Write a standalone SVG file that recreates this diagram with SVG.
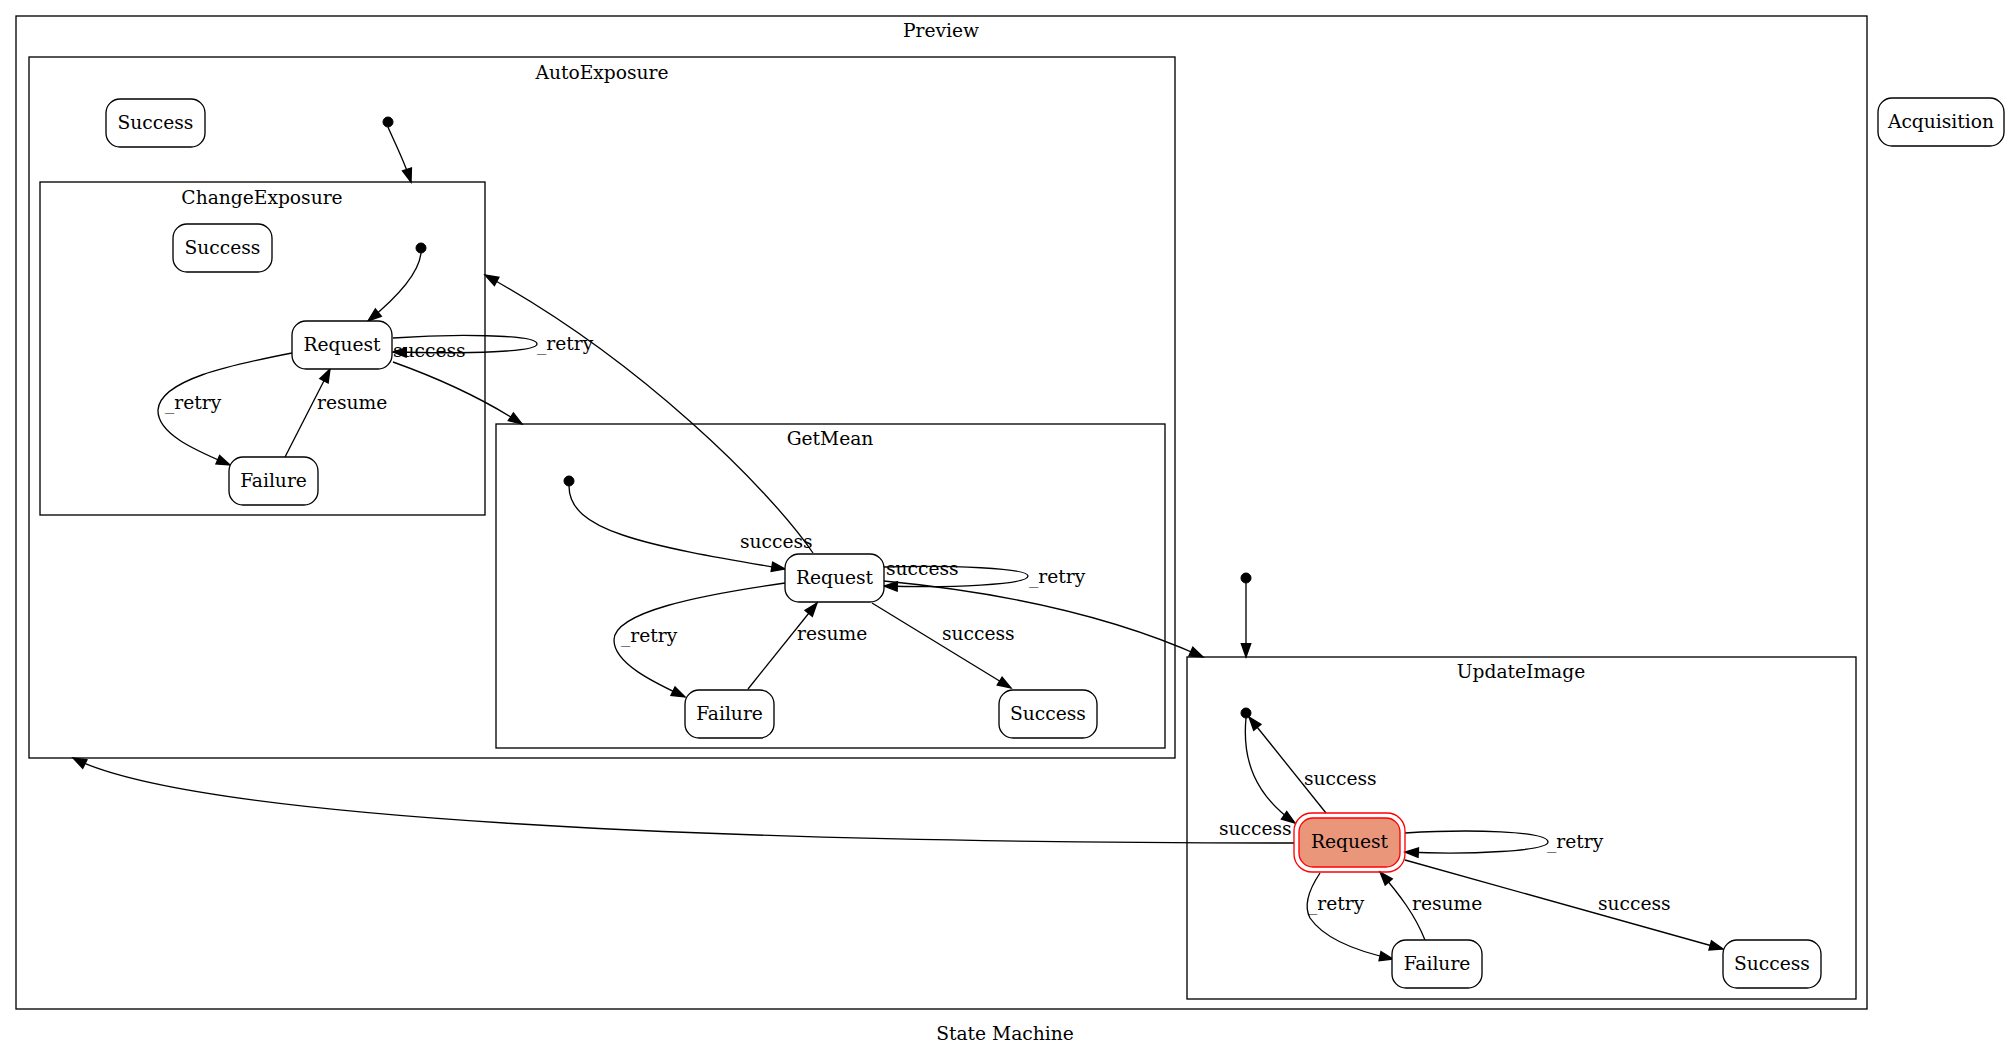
<svg xmlns="http://www.w3.org/2000/svg" width="2011" height="1056" viewBox="0 0 2011 1056">
  <style>
    text { font-family: "DejaVu Serif", "Liberation Serif", serif; font-size: 18.67px; fill: #000; }
    .mid { text-anchor: middle; }
    .cluster { fill: none; stroke: #000; stroke-width: 1.33; }
    .state { fill: #fff; stroke: #000; stroke-width: 1.33; }
    .init { fill: #000; stroke: #000; stroke-width: 1; }
    .edge { fill: none; stroke: #000; stroke-width: 1.33; marker-end: url(#arrow); }
  </style>
  <defs>
    <marker id="arrow" markerUnits="userSpaceOnUse" markerWidth="16" markerHeight="12" refX="13.3" refY="4.7" orient="auto" overflow="visible">
      <path d="M0,0 L13.3,4.7 L0,9.4 Z" fill="#000" stroke="#000" stroke-width="1.33"/>
    </marker>
  </defs>

  <rect width="2011" height="1056" fill="#fff"/>

  <!-- clusters -->
  <g id="cluster_Preview">
    <rect class="cluster" x="16" y="16" width="1851" height="993"/>
    <text class="mid" x="941" y="37">Preview</text>
  </g>
  <g id="cluster_AutoExposure">
    <rect class="cluster" x="29" y="57" width="1146" height="701"/>
    <text class="mid" x="602" y="79">AutoExposure</text>
  </g>
  <g id="cluster_ChangeExposure">
    <rect class="cluster" x="40" y="182" width="445" height="333"/>
    <text class="mid" x="262" y="204">ChangeExposure</text>
  </g>
  <g id="cluster_GetMean">
    <rect class="cluster" x="496" y="424" width="669" height="324"/>
    <text class="mid" x="830" y="445">GetMean</text>
  </g>
  <g id="cluster_UpdateImage">
    <rect class="cluster" x="1187" y="657" width="669" height="342"/>
    <text class="mid" x="1521" y="678">UpdateImage</text>
  </g>

  <!-- connectors -->
  <g id="edges">
    <path class="edge" d="M388,127 C392,137 404,160 411,182"/>
    <path class="edge" d="M421,253 C419,272 400,295 368,321"/>
    <path class="edge" d="M393,338 C450,334 537,334 537,344 C537,352 470,354 393,352"/>
    <path class="edge" d="M292,353 C230,365 160,380 158,410 C157,435 200,452 230,465"/>
    <path class="edge" d="M285,457 L330,369"/>
    <path class="edge" d="M393,362 C435,377 482,398 522,424"/>
    <path class="edge" d="M813,553 C770,490 640,360 485,275"/>
    <path class="edge" d="M569,486 C569,530 640,545 785,569"/>
    <path class="edge" d="M884,567 C950,565 1028,568 1028,576 C1028,585 950,588 884,586"/>
    <path class="edge" d="M785,583 C700,595 614,612 614,640 C614,665 660,685 685,697"/>
    <path class="edge" d="M748,689 L817,603"/>
    <path class="edge" d="M872,603 L1011,688"/>
    <path class="edge" d="M884,581 C1000,592 1110,615 1203,657"/>
    <path class="edge" d="M1246,583 L1246,657"/>
    <path class="edge" d="M1246,718 C1242,760 1255,795 1295,823"/>
    <path class="edge" d="M1326,813 L1249,717"/>
    <path class="edge" d="M1405,833 C1470,829 1548,831 1548,842 C1548,851 1470,855 1405,852"/>
    <path class="edge" d="M1320,873 C1310,888 1303,905 1310,918 C1325,940 1360,952 1393,959"/>
    <path class="edge" d="M1425,940 C1415,915 1400,895 1380,872"/>
    <path class="edge" d="M1405,860 L1723,949"/>
    <path class="edge" d="M1294,843 C700,843 190,818 73,758"/>

    <!-- edge labels -->
    <text x="393" y="357">success</text>
    <text x="537" y="350">_retry</text>
    <text x="165" y="409">_retry</text>
    <text x="317" y="409">resume</text>
    <text x="740" y="548">success</text>
    <text x="886" y="575">success</text>
    <text x="1029" y="583">_retry</text>
    <text x="621" y="642">_retry</text>
    <text x="797" y="640">resume</text>
    <text x="942" y="640">success</text>
    <text x="1304" y="785">success</text>
    <text x="1547" y="848">_retry</text>
    <text x="1308" y="910">_retry</text>
    <text x="1412" y="910">resume</text>
    <text x="1598" y="910">success</text>
    <text x="1219" y="835">success</text>
  </g>

  <!-- AutoExposure states -->
  <g id="AE_Success">
    <rect class="state" x="106" y="99" width="99" height="48" rx="14"/>
    <text class="mid" x="155.5" y="129">Success</text>
  </g>
  <g id="AE_initial">
    <circle class="init" cx="388" cy="122" r="5"/>
  </g>

  <!-- ChangeExposure states -->
  <g id="CE_Success">
    <rect class="state" x="173" y="224" width="99" height="48" rx="14"/>
    <text class="mid" x="222.5" y="254">Success</text>
  </g>
  <g id="CE_initial">
    <circle class="init" cx="421" cy="248" r="5"/>
  </g>
  <g id="CE_Request">
    <rect class="state" x="292" y="321" width="100" height="48" rx="14"/>
    <text class="mid" x="342" y="351">Request</text>
  </g>
  <g id="CE_Failure">
    <rect class="state" x="229" y="457" width="89" height="48" rx="14"/>
    <text class="mid" x="273.5" y="487">Failure</text>
  </g>

  <!-- GetMean states -->
  <g id="GM_initial">
    <circle class="init" cx="569" cy="481" r="5"/>
  </g>
  <g id="GM_Request">
    <rect class="state" x="785" y="554" width="99" height="48" rx="14"/>
    <text class="mid" x="834.5" y="584">Request</text>
  </g>
  <g id="GM_Failure">
    <rect class="state" x="685" y="690" width="89" height="48" rx="14"/>
    <text class="mid" x="729.5" y="720">Failure</text>
  </g>
  <g id="GM_Success">
    <rect class="state" x="999" y="690" width="98" height="48" rx="14"/>
    <text class="mid" x="1048" y="720">Success</text>
  </g>

  <!-- Preview-level initial state -->
  <g id="Preview_initial">
    <circle class="init" cx="1246" cy="578" r="5"/>
  </g>

  <!-- UpdateImage states -->
  <g id="UI_initial">
    <circle class="init" cx="1246" cy="713" r="5"/>
  </g>
  <g id="UI_Request">
    <rect x="1294" y="813" width="111" height="59" rx="18" fill="none" stroke="#ff0000" stroke-width="1.33"/>
    <rect x="1299" y="818" width="101" height="49" rx="14" fill="#e9967a" stroke="#ff0000" stroke-width="1.33"/>
    <text class="mid" x="1349.5" y="848">Request</text>
  </g>
  <g id="UI_Failure">
    <rect class="state" x="1392" y="940" width="90" height="48" rx="14"/>
    <text class="mid" x="1437" y="970">Failure</text>
  </g>
  <g id="UI_Success">
    <rect class="state" x="1723" y="940" width="98" height="48" rx="14"/>
    <text class="mid" x="1772" y="970">Success</text>
  </g>

  <!-- top-level state -->
  <g id="Acquisition">
    <rect class="state" x="1878" y="98" width="126" height="48" rx="14"/>
    <text class="mid" x="1941" y="128">Acquisition</text>
  </g>

  <!-- graph label -->
  <text class="mid" x="1005" y="1040">State Machine</text>
</svg>
